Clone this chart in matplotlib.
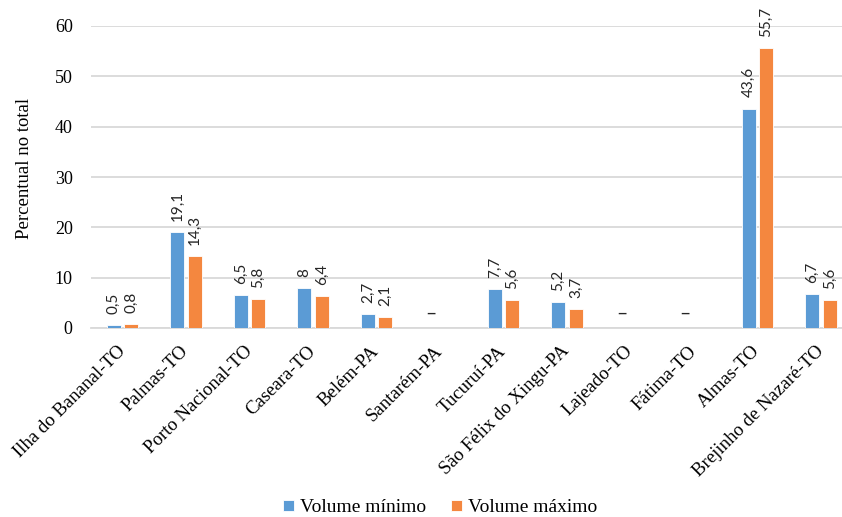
import numpy as np
import matplotlib
matplotlib.use("Agg")
import matplotlib.pyplot as plt

categories = ["Ilha do Bananal-TO", "Palmas-TO", "Porto Nacional-TO", "Caseara-TO",
              "Belém-PA", "Santarém-PA", "Tucuruí-PA", "São Félix do Xingu-PA",
              "Lajeado-TO", "Fátima-TO", "Almas-TO", "Brejinho de Nazaré-TO"]
vol_min = [0.5, 19.1, 6.5, 8.0, 2.7, None, 7.7, 5.2, None, None, 43.6, 6.7]
vol_max = [0.8, 14.3, 5.8, 6.4, 2.1, None, 5.6, 3.7, None, None, 55.7, 5.6]
series_names = ["Volume mínimo", "Volume máximo"]
yticks = [0, 10, 20, 30, 40, 50, 60]

BLUE = "#5B9BD5"
ORANGE = "#F4873F"
GRID = "#D9D9D9"

def fmt(v):
    if v is None:
        return "–"
    s = f"{v:g}"
    return s.replace(".", ",")

fig = plt.figure(figsize=(8.42, 5.17), dpi=100)
ax = fig.add_axes([90.75 / 842, 1 - 328 / 517, 1 - 90.75 / 842, (328 - 26) / 517])

x = np.arange(len(categories))
off = 0.138
w = 0.22
mins = np.array([np.nan if v is None else v for v in vol_min], dtype=float)
maxs = np.array([np.nan if v is None else v for v in vol_max], dtype=float)

b1 = ax.bar(x - off, np.nan_to_num(mins), w, color=BLUE, edgecolor="white",
            linewidth=0.6, label=series_names[0], zorder=3)
b2 = ax.bar(x + off, np.nan_to_num(maxs), w, color=ORANGE, edgecolor="white",
            linewidth=0.6, label=series_names[1], zorder=3)

label_font = dict(family=["Lato", "DejaVu Sans"], fontsize=11, color="#262626")
for i in range(len(categories)):
    if vol_min[i] is None:
        ax.text(x[i] - off, 3.0, fmt(vol_min[i]), ha="center", va="center",
                fontsize=14, family=["Lato", "DejaVu Sans"], color="#262626",
                zorder=4)
        continue
    ax.annotate(fmt(vol_min[i]), (x[i] - off, vol_min[i]), xytext=(0, 8),
                textcoords="offset points", rotation=90, ha="center", va="bottom",
                **label_font)
    ax.annotate(fmt(vol_max[i]), (x[i] + off, vol_max[i]), xytext=(0, 8),
                textcoords="offset points", rotation=90, ha="center", va="bottom",
                **label_font)

ax.set_xlim(-0.5, 11 + (842 - 821) / 63.5)
ax.set_ylim(0, 60)
ax.set_yticks(yticks)
ax.set_yticklabels([str(t) for t in yticks], family="Liberation Serif", fontsize=13)
ax.tick_params(axis="y", length=0, pad=13)
ax.tick_params(axis="x", length=0, pad=15)
ax.set_xticks(x)
ax.set_xticklabels(categories, rotation=45, ha="right", va="center",
                   rotation_mode="anchor", family="Liberation Serif", fontsize=13.5)
ax.yaxis.grid(True, color=GRID, linewidth=1.3, zorder=0)
ax.set_axisbelow(True)
for s in ["top", "right", "left"]:
    ax.spines[s].set_visible(False)
ax.spines["bottom"].set_color(GRID)
ax.spines["bottom"].set_linewidth(1.3)

fig.text(25 / 842, 1 - 168 / 517, "Percentual no total", rotation=90, ha="center",
         va="center", family="Liberation Serif", fontsize=13.5)

fig.legend(handles=[b1, b2], labels=series_names, loc="center",
           bbox_to_anchor=(440 / 842, 1 - 508 / 517), ncol=2, frameon=False,
           prop=dict(family="Liberation Serif", size=14), handlelength=0.55,
           handleheight=0.55, handletextpad=0.3, columnspacing=1.3)

fig.savefig("out.png", dpi=100)
